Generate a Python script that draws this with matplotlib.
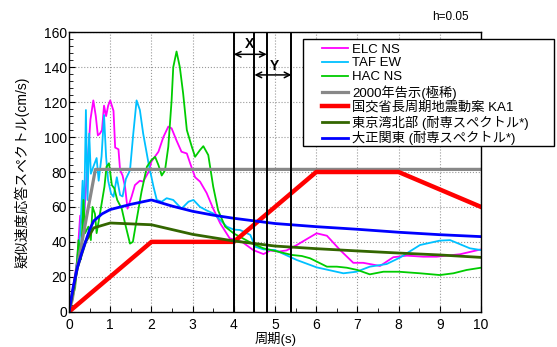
import numpy as np
import matplotlib
matplotlib.use('Agg')
import matplotlib.pyplot as plt
from matplotlib.ticker import MultipleLocator
from matplotlib.patches import Rectangle

plt.rcParams['font.family'] = ['Liberation Sans', 'Noto Sans CJK JP', 'DejaVu Sans']

# ELC NS
elc_t = [0, 0.1, 0.2, 0.27, 0.35, 0.45, 0.52, 0.59, 0.65, 0.7, 0.75, 0.8, 0.85, 0.9, 0.95, 1.0,
         1.08, 1.12, 1.2, 1.24, 1.3, 1.36, 1.42, 1.52, 1.6, 1.72, 1.8, 1.93, 2.0, 2.17, 2.29,
         2.41, 2.49, 2.61, 2.73, 2.86, 2.94, 3.06, 3.18, 3.34, 3.5, 3.67, 3.9, 4.0, 4.2, 4.47,
         4.72, 4.88, 5.1, 5.28, 5.53, 5.8, 6.01, 6.26, 6.58, 6.9, 7.14, 7.55, 7.87, 8.2, 8.6,
         8.92, 9.49, 10.0]
elc_v = [0, 14, 30, 55, 48, 85, 110, 121, 112, 101, 102, 104, 118, 112, 118, 121,
         115, 94, 93, 81, 78, 71.5, 59, 66, 72.5, 75, 74.5, 80, 86, 91.6, 100,
         106, 105, 98, 91.6, 90.6, 85, 77, 74.5, 68, 59, 50.6, 42, 41.4, 40, 35.3,
         33, 35, 34.5, 35.1, 38.2, 42, 44.9, 43.5, 35.3, 28, 28, 26.2, 31.2, 32.1, 31.5,
         31.5, 32.9, 35.7]

# TAF EW
taf_t = [0, 0.15, 0.27, 0.33, 0.36, 0.41, 0.45, 0.49, 0.53, 0.59, 0.67, 0.72, 0.79, 0.85, 0.9,
         0.95, 1.02, 1.08, 1.16, 1.24, 1.3, 1.38, 1.48, 1.56, 1.64, 1.72, 1.8, 1.93, 2.05, 2.13,
         2.25, 2.37, 2.53, 2.73, 2.9, 3.02, 3.18, 3.34, 3.5, 3.67, 3.83, 4.0, 4.15, 4.4, 4.52,
         4.72, 5.0, 5.53, 6.01, 6.66, 6.98, 7.3, 7.71, 8.04, 8.52, 9.0, 9.25, 9.73, 10.0]
taf_v = [0, 20, 44, 75, 45, 115.5, 64, 102, 79, 83, 88, 75, 89, 112.6, 88.7,
         75, 67.7, 65.8, 77, 66.8, 66, 76, 81, 102, 121, 115.5, 102, 85, 71.6, 64,
         63, 65, 64, 59, 63, 64, 60, 58, 56.3, 52.5, 48.7, 47, 46.8, 44, 37.2,
         35.7, 35.3, 29.6, 25.4, 22, 22.9, 25.8, 27.3, 31.1, 38.2, 40.7, 41, 36.3, 35.3]

# HAC NS
hac_t = [0, 0.15, 0.23, 0.29, 0.35, 0.39, 0.47, 0.53, 0.57, 0.63, 0.67, 0.75, 0.86, 0.91, 0.97,
         1.04, 1.1, 1.17, 1.28, 1.36, 1.48, 1.55, 1.64, 1.76, 1.89, 2.0, 2.09, 2.17, 2.25, 2.33,
         2.41, 2.49, 2.53, 2.61, 2.69, 2.77, 2.86, 2.98, 3.06, 3.18, 3.26, 3.38, 3.5, 3.62, 3.79,
         4.0, 4.47, 4.72, 5.0, 5.41, 5.65, 5.85, 6.26, 6.5, 6.74, 7.0, 7.3, 7.63, 8.0, 8.52, 9.0,
         9.33, 9.65, 10.0]
hac_v = [0, 14, 41, 30, 64, 45, 48.7, 41, 60, 56, 45, 56, 71.6, 83, 85,
         72.5, 70.6, 64, 59, 50.6, 39, 40, 52.5, 68.7, 83, 86.8, 88.7, 84, 78, 81,
         94.5, 121, 140, 149, 140, 125, 104, 94.5, 88.7, 92.6, 94.8, 89.7, 71.6, 58, 48.7,
         44.8, 38.8, 36.3, 34.8, 32.5, 31.9, 30.6, 25.8, 25.8, 25.2, 23.9, 21.4, 22.9, 22.9, 22, 21,
         22, 23.9, 25.2]

# 2000年告示(極稀)
kokuji_t = [0, 0.08, 0.16, 0.64, 10]
kokuji_v = [0, 7.1, 20.4, 81.5, 81.5]

# 国交省長周期地震動案 KA1
ka1_t = [0, 2, 4, 6, 8, 10]
ka1_v = [0, 40, 40, 80, 80, 60]

# 東京湾北部
tokyo_t = [0, 0.2, 0.4, 0.6, 1.0, 2.0, 3.0, 4.0, 5.0, 6.0, 7.0, 8.0, 9.0, 10.0]
tokyo_v = [0, 25, 40, 48, 50.8, 49.8, 44.3, 40.5, 37.6, 36.1, 34.8, 33.6, 32.5, 31.1]

# 大正関東
taisho_t = [0, 0.1, 0.2, 0.3, 0.4, 0.5, 0.6, 0.8, 1.0, 1.5, 2.0, 2.5, 3.0, 3.5, 4.0, 5.0,
            6.0, 7.0, 8.0, 9.0, 10.0]
taisho_v = [0, 14, 25, 33, 40, 47, 52, 56, 58.5, 61.5, 64, 60.5, 57.5, 55.3, 53.5, 50.5,
            48.7, 47.2, 45.5, 44.1, 43]

periods = [4.0, 4.5, 4.8, 5.4]      # vertical lines

fig = plt.figure(figsize=(5.57, 3.47), dpi=100)
ax = fig.add_axes([0.1239, 0.1017, 0.7397, 0.8052])

ax.plot(elc_t, elc_v, color='#ff00ff', lw=1.3, label='ELC NS')
ax.plot(taf_t, taf_v, color='#00c0ff', lw=1.3, label='TAF EW')
ax.plot(hac_t, hac_v, color='#00cc00', lw=1.3, label='HAC NS')
ax.plot(kokuji_t, kokuji_v, color='#888888', lw=2.3, label='2000年告示(極稀)')
ax.plot(ka1_t, ka1_v, color='#ff0000', lw=3.2, label='国交省長周期地震動案 KA1')
ax.plot(tokyo_t, tokyo_v, color='#336600', lw=2.0, label='東京湾北部 (耐専スペクトル*)')
ax.plot(taisho_t, taisho_v, color='#0000ff', lw=2.0, label='大正関東 (耐専スペクトル*)')

for p in periods:
    ax.axvline(p, color='black', lw=1.4)

ax.annotate('', xy=(4.0, 147.4), xytext=(4.8, 147.4),
            arrowprops=dict(arrowstyle='<->', color='black', lw=1.1, shrinkA=0, shrinkB=0))
ax.annotate('', xy=(4.5, 135.6), xytext=(5.4, 135.6),
            arrowprops=dict(arrowstyle='<->', color='black', lw=1.1, shrinkA=0, shrinkB=0))
ax.text(4.37, 153.3, 'X', ha='center', va='center', fontsize=10, fontweight='bold')
ax.text(4.98, 140.7, 'Y', ha='center', va='center', fontsize=10, fontweight='bold')

ax.set_xlim(0, 10)
ax.set_ylim(0, 160)
ax.xaxis.set_major_locator(MultipleLocator(1))
ax.xaxis.set_minor_locator(MultipleLocator(0.5))
ax.yaxis.set_major_locator(MultipleLocator(20))
ax.yaxis.set_minor_locator(MultipleLocator(4))
ax.tick_params(which='both', direction='in', labelsize=10)
ax.tick_params(axis='x', pad=4.5)
ax.tick_params(axis='y', pad=1.5)
ax.tick_params(which='major', length=4)
ax.tick_params(which='minor', length=3)
ax.grid(True, which='major', ls=':', color='#999999', lw=0.8)
for s in ax.spines.values():
    s.set_color('black')
    s.set_linewidth(1.0)

ax.set_ylabel('疑似速度応答スペクトル(cm/s)', fontsize=10)
ax.yaxis.set_label_coords(-0.095, 0.5)
ax.set_xlabel('周期(s)', fontsize=9.5)
ax.xaxis.set_label_coords(0.494, 0.004, transform=fig.transFigure)
ax.xaxis.label.set_va('bottom')

# legend frame drawn separately so the handles sit further in
fig.add_artist(Rectangle((0.5435, 0.5800), 0.4512, 0.3084, transform=fig.transFigure,
                         facecolor='white', edgecolor='black', lw=1.0, zorder=3))
leg = fig.legend(loc='upper left', bbox_to_anchor=(0.5776, 0.8752), fontsize=9.5,
                 frameon=False, handlelength=2.0, handletextpad=0.3, labelspacing=0.13,
                 borderpad=0, borderaxespad=0)
leg.set_zorder(5)

fig.text(0.776, 0.951, 'h=0.05', fontsize=8.5, va='center', ha='left')

fig.savefig('out.png', dpi=100)
